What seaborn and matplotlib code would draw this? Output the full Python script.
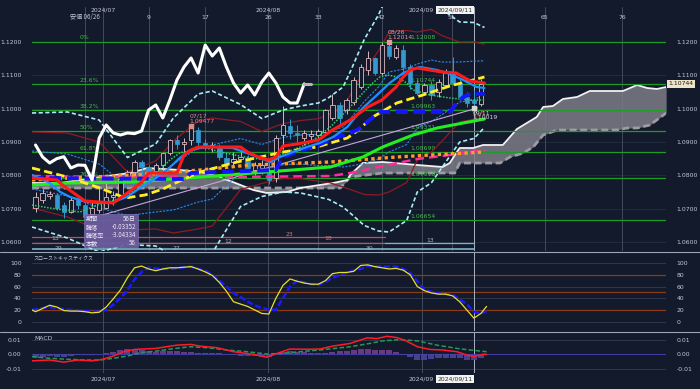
import numpy as np
import matplotlib
matplotlib.use("Agg")
import matplotlib.pyplot as plt
import matplotlib.transforms as mtrans
from matplotlib.patches import Rectangle
from matplotlib.lines import Line2D
import seaborn as sns

# ---------------- data ----------------
bar_idx = list(range(-7, 57))
open_ = [1.0702,1.0726,1.0738,1.0741,1.0711,1.0690,1.0726,
         1.0711,1.0683,1.0696,1.0702,1.0735,1.0742,1.0790,1.0810,1.0840,1.0826,
         1.0813,1.0830,1.0868,1.0907,1.0894,1.0906,1.0936,1.0897,1.0885,1.0882,
         1.0852,1.0840,1.0848,1.0852,1.0816,1.0822,1.0816,1.0792,1.0921,1.0948,
         1.0927,1.0913,1.0917,1.0920,1.0930,1.0972,1.1011,1.0996,1.1020,1.1065,
         1.1116,1.1152,1.1107,1.1188,1.1155,1.1176,1.1125,1.1077,1.1050,1.1071,
         1.1050,1.1071,1.1107,1.1077,1.1035,1.1026,1.1014]
high_ = [1.0750,1.0760,1.0752,1.0748,1.0719,1.0735,1.0738,
         1.0716,1.0719,1.0762,1.0776,1.0752,1.0802,1.0817,1.0847,1.0845,1.0830,
         1.0837,1.0871,1.0910,1.0922,1.0912,1.09477,1.0944,1.0910,1.0900,1.0895,
         1.0868,1.0869,1.0871,1.0860,1.0840,1.0845,1.0845,1.0920,1.1008,1.0970,
         1.0950,1.0935,1.0935,1.0940,1.1000,1.1045,1.1020,1.1032,1.1095,1.1135,
         1.1174,1.1155,1.1201,1.12014,1.1190,1.1190,1.1135,1.1090,1.1078,1.1082,
         1.1090,1.1120,1.1155,1.1088,1.1050,1.1055,1.1090]
low_ = [1.0690,1.0718,1.0730,1.0695,1.0672,1.0686,1.0700,
        1.0666,1.0677,1.0688,1.0700,1.0712,1.0730,1.0785,1.0797,1.0792,1.0800,
        1.0800,1.0810,1.0860,1.0880,1.0870,1.0890,1.0890,1.0875,1.0870,1.0845,
        1.0825,1.0825,1.0845,1.0810,1.0800,1.0805,1.0775,1.0780,1.0880,1.0910,
        1.0900,1.0890,1.0905,1.0910,1.0925,1.0965,1.0955,1.0985,1.1010,1.1060,
        1.1100,1.1100,1.1100,1.1150,1.1150,1.1100,1.1060,1.1040,1.1040,1.1025,
        1.1035,1.1065,1.1070,1.1025,1.1005,1.10019,1.1008]
close_ = [1.0735,1.0747,1.0745,1.0702,1.0690,1.0726,1.0711,
          1.0675,1.0701,1.0717,1.0735,1.0742,1.0790,1.0810,1.0840,1.0826,1.0813,
          1.0830,1.0868,1.0907,1.0894,1.0899,1.0942,1.0900,1.0885,1.0891,1.0855,
          1.0837,1.0850,1.0856,1.0822,1.0831,1.0830,1.0786,1.0912,1.0951,1.0927,
          1.0921,1.0927,1.0925,1.0933,1.0996,1.1011,1.0972,1.1026,1.1086,1.1125,
          1.1152,1.1107,1.1191,1.1158,1.1182,1.1125,1.1077,1.1047,1.1071,1.1041,
          1.1080,1.1107,1.1077,1.1035,1.1017,1.1017,1.10744]

tenkan_x = [-7.5,-4,-3,-1,0,4,5,7,8,9,13,14,15,16,22,23,24.5,26,27,28,30,33,35,37.5,40,42,44,45,46,47,50.5,52.5,53.5,54.5,56.5]
tenkan_y = [1.0792,1.0786,1.0768,1.0738,1.0723,1.0717,1.0732,1.0762,1.0780,1.0807,1.0807,1.0861,1.0876,1.0885,1.0885,
            1.0870,1.0855,1.0846,1.0855,1.0888,1.0894,1.0906,1.0936,1.0966,1.1005,1.1026,1.1065,1.1095,1.1116,1.1122,
            1.1110,1.1107,1.1095,1.1083,1.1077]
kijun_x = [-7.5,14,15,27,28,30,33,35,38.5,40.8,41.7,51.6,52.6,53.5,54.5,56.5]
kijun_y = [1.0792,1.0789,1.0807,1.0816,1.0855,1.0870,1.0891,1.0909,1.0936,1.0975,1.0990,1.0990,1.1017,1.1035,1.1044,1.1044]
ema_x = [-7.5,-5,-3.5,-2.1,0.3,2.1,4,5.9,7.8,9.6,11.6,13.4,14.9,16.3,18.1,20.9,22.9,24.8,26.2,27.6,29.4,31.4,33.2,35.1,37.1,
         39.3,41.3,43.1,45,46.4,47.4,49.8,51.6,53.5,55.4,56.5]
ema_y = [1.0801,1.0777,1.0750,1.0735,1.0720,1.0717,1.0720,1.0735,1.0762,1.0786,1.0816,1.0852,1.0876,1.0882,1.0885,
         1.0882,1.0867,1.0852,1.0840,1.0855,1.0870,1.0885,1.0897,1.0915,1.0945,1.1002,1.1041,1.1077,1.1107,1.1119,
         1.1125,1.1116,1.1104,1.1086,1.1065,1.1062]
ma10_x = [-7.5,-5,-0.7,1.7,4.2,6.4,7.8,9.9,12,13.4,16.7,19.1,22.6,25.7,27.6,29.4,31.8,34.7,37.5,39.3,40.7,41.7,42.7,43.6,44.6,
          45.5,46.4,48.8,51.6,54.5,56.6]
ma10_y = [1.0711,1.0702,1.0690,1.0711,1.0726,1.0747,1.0765,1.0801,1.0846,1.0867,1.0885,1.0870,1.0855,1.0846,1.0861,
          1.0876,1.0897,1.0945,1.1005,1.1047,1.1077,1.1095,1.1101,1.1098,1.1089,1.1077,1.1056,1.1041,1.1032,1.1026,1.1026]
yellow_x = [-7.5,-2.5,2.1,5.7,8.5,11,13.4,16.3,20.9,24.8,28,32.8,37.1,38.5,40.7,44.1,47.8,51.6,56.5]
yellow_y = [1.0822,1.0795,1.0762,1.0732,1.0741,1.0759,1.0783,1.0810,1.0837,1.0855,1.0870,1.0885,1.0912,1.0933,1.0975,
            1.1017,1.1041,1.1068,1.1095]
green_x = [-7.5,-2.5,6.8,16.3,25.7,34.7,39.3,42.1,46.4,49.8,53.5,56.5]
green_y = [1.0771,1.0777,1.0780,1.0795,1.0810,1.0825,1.0855,1.0885,1.0921,1.0942,1.0957,1.0969]
orange_x = [-7.5,6.8,16.3,23.3,34.7,44.1,48.8,56.5]
orange_y = [1.0786,1.0801,1.0816,1.0831,1.0840,1.0855,1.0861,1.0870]
magenta_x = [-7.5,6.8,20.9,34.7,37.5,42.1,47,51.6,56.5]
magenta_y = [1.0798,1.0795,1.0795,1.0798,1.0807,1.0828,1.0849,1.0861,1.0876]
trend_x = [0, 55.5]
trend_y = [1.0666, 1.1002]

bb_x = [-7.5,-2.5,2,6,10,12.5,16,18,22,25,28,30.5,33,34.5,36.5,37.5,39.5,41.5,43,45.5,47,49,50.5,53,55,56.5]
bb_mid = [1.0816,1.0801,1.0768,1.0723,1.0741,1.0765,1.0801,1.0810,1.08595,1.08535,1.0873,1.08775,1.0876,1.08805,1.0885,
          1.08985,1.09285,1.0957,1.0990,1.10065,1.1038,1.10538,1.10608,1.1080,1.10845,1.10935]
bb_sd = [0.0057,0.0063,0.0066,0.00435,0.0051,0.0069,0.0081,0.0081,0.0051,0.0039,0.0041,0.00435,0.0047,0.0051,0.0060,
         0.00705,0.0093,0.0108,0.0120,0.0114,0.0096,0.0092,0.0079,0.0060,0.0058,0.0050]

spanA_x = [-7.5,-3.5,2.1,6.4,8.8,13.4,16.3,18.1,20.9,23.8,25.7,28.6,30.4,33.2,35.1,37.1,37.5,39.3,42.1,47,50.6,51.6,52.6,53,
           54.9,56.3,59.1,61.1,63.9,64.8,66.2,67.6,69.6,71.4,76.1,78.1,79.5,80.9,82.2]
spanA_y = [1.0777,1.0777,1.0795,1.0807,1.0822,1.0816,1.0810,1.0801,1.0780,1.0756,1.0747,1.0750,1.0762,1.0771,1.0777,
           1.0786,1.0801,1.0837,1.0840,1.0831,1.0825,1.0837,1.0870,1.0882,1.0882,1.0891,1.0891,1.0939,1.0975,1.1005,
           1.1008,1.1029,1.1035,1.1053,1.1053,1.1071,1.1062,1.1059,1.1065]
spanB_x = [-7.5,36.1,37.5,42.1,52.3,53,58.7,60.1,62,63.4,64.8,66.8,75.2,76.7,78.1,79.9,82.2]
spanB_y = [1.0762,1.0762,1.0795,1.0807,1.0807,1.0837,1.0837,1.0855,1.0867,1.0885,1.0921,1.0936,1.0936,1.0942,1.0942,
           1.0951,1.0987]
chikou_shift = 25

fib_levels = [1.12008, 1.10744, 1.09963, 1.09331, 1.08699, 1.07918, 1.06654]
fib_names = ["0%", "23.6%", "38.2%", "50%", "61.8%", "76.4%", "100%"]
fib_texts = ["1.12008", "1.10744", "1.09963", "1.09331", "1.08699", "1.07918", "1.06654"]

cycle_levels = [1.0615, 1.0597, 1.0578]
cycle_labels = [("13", -4.2, 1.0612), ("29", -3.8, 1.0582), ("27", 13, 1.0582), ("12", 20.2, 1.0602),
                ("23", 28.9, 1.0624), ("18", 34.4, 1.0609), ("30", 40.3, 1.0582), ("13", 48.8, 1.0603)]

stoch_k_x = [-7.5,-7,-5,-4,-3,-2,-1] + list(range(0, 57)) + [56.8]
stoch_k_y = [20,17,28,25,19,18,18,
             17,15,16,25,39,54,75,92,95,90, 87,90,92,92,93,94,90,85,79,67,
             52,34,30,26,20,14,13,40,62,73, 69,66,64,64,70,82,84,84,86,96,
             97,94,92,90,91,88,80,60,53,49, 47,47,44,34,20,6,14, 26]
stoch_d_x = [-7.5,-5,-3,-2,0,2,3,4,5,6,7,8,9,11,12,14,15,16,17,18,19,20,21,22,23,24,25,26,27,28,29,30,32,33,34,35,37,38,
             39,40,42,44,45,46,47,48,49,50,51,52,53,54,55,56,56.8]
stoch_d_y = [20,25,21,20,18,17,20,29,40,54,72,85,92,90,90,93,94,90,87,80,70,60,49,42,34,28,23,21,20,40,60,70,64,63,68,75,
             84,87,90,95,94,94,90,83,69,55,51,48,47,46,38,30,17,14,18]

macd_x = [-7.5,-5,-3,-1,1,2.5,4,5.5,7,8.2,10,11.5,13,15,16.3,18.7,21,23.8,25.7,27.2,29,31.4,33.2,35,37.5,39.9,41.3,42.7,
          44.1,45.5,47,48.8,50.6,52.6,54,55,56.3,56.8]
macd_y = [-0.0046,-0.0040,-0.0055,-0.0040,-0.0046,-0.0035,-0.0012,0.0018,0.0034,0.0037,0.0041,0.0053,0.0064,0.0069,
          0.0057,0.0046,0.0018,0.0000,-0.0021,0.0007,0.0037,0.0035,0.0037,0.0057,0.0076,0.0115,0.0110,0.0126,0.0117,
          0.0092,0.0053,0.0034,0.0030,0.0018,-0.0005,-0.0016,0.0000,0.0000]
signal_x = [-7.5,-5,-2.5,0.3,2.1,4,6,7.8,10.2,12.4,14.9,17.3,20.1,22.9,25.7,28,30.4,33.2,37.5,40.3,42.1,44.6,47,49.8,
            52.6,54.5,56.8]
signal_y = [-0.0016,-0.0028,-0.0035,-0.0040,-0.0040,-0.0028,-0.0012,0.0011,0.0023,0.0039,0.0053,0.0046,0.0030,0.0018,
            0.0002,0.0007,0.0018,0.0030,0.0053,0.0076,0.0094,0.0103,0.0094,0.0064,0.0041,0.0030,0.0018]
hist_y = [-0.0027,-0.0020,-0.0012,-0.0017,-0.0022,-0.0012,-0.0002,
          -0.0003,-0.0006,0.0002,0.0009,0.0016,0.0028,0.0035,0.0032,0.0027,0.0023,
          0.0019,0.0020,0.0021,0.0022,0.0018,0.0016,0.0009,0.0009,0.0008,0.0006,
          -0.0001,-0.0008,-0.0009,-0.0012,-0.0014,-0.0020,-0.0021,0.0001,0.0013,0.0025,
          0.0019,0.0014,0.0011,0.0008,0.0012,0.0017,0.0020,0.0023,0.0028,0.0036,
          0.0040,0.0028,0.0028,0.0029,0.0016,-0.0002,-0.0021,-0.0041,-0.0041,-0.0036,
          -0.0029,-0.0023,-0.0024,-0.0028,-0.0037,-0.0043,-0.0024]

month_bars = [2.5, 25.9, 47.6]
month_labels = ["2024/07", "2024/08", "2024/09"]
count_bars = [9, 17, 26, 33, 42, 51.9, 65, 76]
count_labels = ["9", "17", "26", "33", "42", "51", "65", "76"]
cursor_bar = 55
cursor_label = "2024/09/11"

# ---------------- style ----------------
BG = "#131a2b"
TXT = "#c3c8d2"
CJK = ['Noto Sans CJK JP', 'DejaVu Sans']
sns.set_theme(style="dark", rc={"axes.facecolor": BG, "figure.facecolor": BG})
plt.rcParams['font.family'] = ['DejaVu Sans', 'Noto Sans CJK JP']
FS = 4.4

fig = plt.figure(figsize=(7.0, 3.89), dpi=100)
L, W = 32/700, 634/700
ax = fig.add_axes([L, 1-251/389, W, 244/389])
ax2 = fig.add_axes([L, 1-331/389, W, 79/389])
ax3 = fig.add_axes([L, 1-373/389, W, 41/389])
XL = (-7.5, 82.18)
for a in (ax, ax2, ax3):
    a.set_facecolor(BG)
    for s in a.spines.values():
        s.set_visible(False)
    a.grid(False)
    a.set_xlim(*XL)
    a.tick_params(axis='x', bottom=False, labelbottom=False)
    a.tick_params(axis='y', left=False, right=False, labelleft=True, labelright=True,
                  labelsize=FS, labelcolor=TXT, pad=1.5)

# ---------- main panel ----------
ax.set_ylim(1.0573, 1.1305)
pticks = [1.06, 1.07, 1.08, 1.09, 1.10, 1.11, 1.12]
ax.set_yticks(pticks)
ax.set_yticklabels([f"{v:.4f}" for v in pticks])
for v in pticks:
    ax.axhline(v, color="#262e42", lw=0.6, zorder=0.5)

for b in [0, 2.5, 9, 17, 25.9, 33, 42, 47.6, 51.9, 65, 76]:
    ax.axvline(b, color="#4a5163", lw=0.6, zorder=0.6)
for a in (ax2, ax3):
    for b in [2.5, 25.9, 47.6]:
        a.axvline(b, color="#4a5163", lw=0.6, zorder=0.6)
for a in (ax, ax2, ax3):
    a.axvline(cursor_bar, color="#a9b1c2", lw=0.7, zorder=0.7)

# ichimoku cloud
grid = np.linspace(-7.5, 82.2, 900)
sa = np.interp(grid, spanA_x, spanA_y)
sb = np.interp(grid, spanB_x, spanB_y)
ax.fill_between(grid, sa, sb, color="#7c7d88", alpha=0.85, lw=0, zorder=1)
ax.plot(spanB_x, spanB_y, color="#9c9ca2", lw=2.0, dashes=(2.5, 1.3), zorder=1.2)
ax.plot(spanA_x, spanA_y, color="#f2f2f2", lw=1.3, zorder=1.3)

# fib lines
for lev in fib_levels:
    ax.axhline(lev, color="#1f9c28", lw=0.9, zorder=1.5)
for lev, nm, tx in zip(fib_levels[:-1], fib_names[:-1], fib_texts[:-1]):
    ax.text(-0.8, lev + 0.0004, nm, color="#45b84a", fontsize=FS, ha='left', va='bottom', zorder=1.6)
for lev, tx in zip(fib_levels, fib_texts):
    ax.text(46.0, lev + 0.0004, tx, color="#45b84a", fontsize=FS, ha='left', va='bottom', zorder=1.6)

# cycle lines at bottom
ax.plot([-7.5, 42.5], [cycle_levels[0]] * 2, color="#c0505a", lw=0.9, zorder=1.5)
ax.plot([-7.5, 42.5], [cycle_levels[1]] * 2, color="#c0505a", lw=0.9, zorder=1.5)
ax.plot([42.5, 55], [cycle_levels[1]] * 2, color="#7fb3cc", lw=0.9, zorder=1.5)
ax.plot([-7.5, 55], [cycle_levels[2]] * 2, color="#7fb3cc", lw=1.2, zorder=1.5)
for t, bx, by in cycle_labels:
    col = "#d07a7a" if t in ("23", "18") else "#9fb6c6"
    ax.text(bx, by, t, color=col, fontsize=FS, ha='center', va='center', zorder=1.7)

# bollinger bands
bm = np.array(bb_mid); bs = np.array(bb_sd)
for k in (1, -1):
    ax.plot(bb_x, bm + k * bs, color="#2a86e8", lw=0.8, dashes=(2, 1.2), zorder=2)
    ax.plot(bb_x, bm + 2 * k * bs, color="#8e1a24", lw=0.9, zorder=2)
    ax.plot(bb_x, bm + 3 * k * bs, color="#a6eef5", lw=1.2, dashes=(2.5, 1.5), zorder=2.1)

ax.plot(trend_x, trend_y, color="#c6a6dc", lw=0.8, zorder=2.2)

# candles
x = np.array(bar_idx); o = np.array(open_); h = np.array(high_); l = np.array(low_); c = np.array(close_)
up = c >= o
UPC = "#d9b9c0"; DNC = "#3399d0"
ax.vlines(x[up], l[up], h[up], color=UPC, lw=0.7, zorder=3)
ax.vlines(x[~up], l[~up], h[~up], color=DNC, lw=0.7, zorder=3)
ax.bar(x[up], (c - o)[up], bottom=o[up], width=0.62, facecolor=BG, edgecolor=UPC, lw=0.6, zorder=3.1)
ax.bar(x[~up], (c - o)[~up], bottom=o[~up], width=0.62, color=DNC, edgecolor=DNC, lw=0.5, zorder=3.1)

# moving averages / ichimoku lines
ax.plot(ma10_x, ma10_y, color="#38c86a", lw=1.1, dashes=(1, 1), zorder=4)
ax.plot(magenta_x, magenta_y, color="#ff2aa0", lw=1.8, dashes=(3.5, 2), zorder=4.1)
ax.plot(orange_x, orange_y, color="#ff9a2a", lw=2.4, dashes=(1, 1), zorder=4.2)
ax.plot(green_x, green_y, color="#22ee22", lw=2.2, zorder=4.3)
ax.plot(yellow_x, yellow_y, color="#ffee22", lw=2.0, dashes=(3, 1.5), zorder=4.4)
ax.plot(kijun_x, kijun_y, color="#1414ff", lw=2.8, dashes=(3, 1.5), zorder=4.5)
sns.lineplot(x=ema_x, y=ema_y, ax=ax, color="#1e90ff", lw=1.6, sort=False, zorder=4.6)
sns.lineplot(x=tenkan_x, y=tenkan_y, ax=ax, color="#ff1a1a", lw=2.2, sort=False, zorder=4.7)

# chikou span
ch_x = [b - chikou_shift for b in bar_idx if b - chikou_shift >= -7]
ch_y = [cv for b, cv in zip(bar_idx, close_) if b - chikou_shift >= -7]
sns.lineplot(x=ch_x, y=ch_y, ax=ax, color="white", lw=2.2, sort=False, zorder=4.8)
ax.plot([ch_x[-1], ch_x[-1] + 1], [ch_y[-1], ch_y[-1]], color="#b5b5b5", lw=2.2, zorder=4.8)

# high/low markers
marks = [(15, 1.09477, "07/17\n1.09477", "#d98a8a", 'bottom'),
         (43, 1.12014, "08/26\n1.12014", "#e29a9a", 'bottom'),
         (55, 1.10019, "09/11\n1.10019", "#d6d6d6", 'top')]
for bx, by, t, col, va in marks:
    ax.scatter([bx], [by], marker='s', s=5, color=col, zorder=6)
    dy = 0.0006 if va == 'bottom' else -0.0006
    ax.text(bx - 0.2, by + dy, t, color=col, fontsize=FS, ha='left', va=va, linespacing=1.05, zorder=6)

# info box
ax.add_patch(Rectangle((0.082, 0.016), 0.085, 0.136, transform=ax.transAxes,
                       facecolor="#6c5c9e", edgecolor="#8a7cc0", lw=0.4, alpha=0.95, zorder=7))
rows = [("期間", "56日"), ("騰落", "-0.03352"), ("騰落率", "-3.04334"), ("本数", "56")]
for i, (k, v) in enumerate(rows):
    yy = 0.131 - i * 0.0325
    ax.text(0.085, yy, k, transform=ax.transAxes, fontsize=FS, color="#eeeaf6", ha='left', va='center',
            family=CJK, zorder=8)
    ax.text(0.164, yy, v, transform=ax.transAxes, fontsize=FS, color="#eeeaf6", ha='right', va='center',
            family=CJK, zorder=8)

# right price tag
bt = mtrans.blended_transform_factory(ax.transAxes, ax.transData)
ax.text(1.004, fib_levels[1], fib_texts[1], transform=bt, fontsize=FS, color="#1a1a1a", ha='left', va='center',
        bbox=dict(boxstyle="square,pad=0.25", facecolor="#efe4c8", edgecolor="none"), zorder=9, clip_on=False)

# top labels
xt = ax.get_xaxis_transform()
for b, t in zip(month_bars, month_labels):
    ax.text(b, 0.988, t, transform=xt, fontsize=FS, color=TXT, ha='center', va='center', zorder=9)
for b, t in zip(count_bars, count_labels):
    ax.text(b, 0.959, t, transform=xt, fontsize=FS, color=TXT, ha='center', va='center', zorder=9)
ax.text(0, 0.959, "安値 06/26", transform=xt, fontsize=FS, color=TXT, ha='center', va='center',
        family=CJK, zorder=9)
ax.text(52.35, 0.988, cursor_label, transform=xt, fontsize=FS, color="#333333", ha='center', va='center',
        bbox=dict(boxstyle="square,pad=0.25", facecolor="#f2f2f2", edgecolor="none"), zorder=10)

# ---------- stochastics ----------
ax2.set_ylim(-16, 119)
sticks = [0, 20, 40, 60, 80, 100]
ax2.set_yticks(sticks)
ax2.set_yticklabels([str(v) for v in sticks])
for v in [0, 40, 60, 100]:
    ax2.axhline(v, color="#343c52", lw=0.6, zorder=0.5)
for v in [20, 50, 80]:
    ax2.axhline(v, color="#8a3a14", lw=0.9, zorder=0.5)
ax2.plot(stoch_d_x, stoch_d_y, color="#1a1aff", lw=1.8, dashes=(2.5, 1), zorder=3)
sns.lineplot(x=stoch_k_x, y=stoch_k_y, ax=ax2, color="#e6e02a", lw=0.9, sort=False, zorder=4)
ax2.text(0.002, 0.925, "スローストキャスティクス", transform=ax2.transAxes, fontsize=3.6, color=TXT,
         ha='left', va='center', family=CJK)

# ---------- MACD ----------
ax3.set_ylim(-0.0131, 0.0156)
mticks = [-0.01, 0.0, 0.01]
ax3.set_yticks(mticks)
ax3.set_yticklabels(["-0.01", "0.00", "0.01"])
for v in [-0.01, 0.01]:
    ax3.axhline(v, color="#343c52", lw=0.6, zorder=0.5)
ax3.axhline(0, color="#3c3ca0", lw=0.8, zorder=0.6)
hy = np.array(hist_y)
ax3.bar(x, hy, width=0.85, color=np.where(hy >= 0, "#6e3a86", "#47449c"), edgecolor="none", lw=0,
        alpha=0.95, zorder=1)
ax3.plot(signal_x, signal_y, color="#1f9a55", lw=1.1, dashes=(3, 1.5), zorder=2)
sns.lineplot(x=macd_x, y=macd_y, ax=ax3, color="#ff1a2a", lw=1.1, sort=False, zorder=3)
ax3.text(0.004, 0.85, "MACD", transform=ax3.transAxes, fontsize=FS, color=TXT, ha='left', va='center')

for a in (ax, ax2, ax3):
    a.set_xlim(*XL)
    a.set_xlabel("")
    a.set_ylabel("")
ax.set_ylim(1.0573, 1.1305)

# bottom labels
bt2 = mtrans.blended_transform_factory(ax3.transData, fig.transFigure)
for b, t in zip(month_bars, month_labels):
    fig.text(b, 1 - 379/389, t, transform=bt2, fontsize=FS, color=TXT, ha='center', va='center')
fig.text(52.35, 1 - 379/389, cursor_label, transform=bt2, fontsize=FS, color="#333333", ha='center', va='center',
         bbox=dict(boxstyle="square,pad=0.25", facecolor="#f2f2f2", edgecolor="none"))

# panel separators
for yy in (1 - 251.5/389, 1 - 331.5/389):
    fig.add_artist(Line2D([0, 1], [yy, yy], transform=fig.transFigure, color="#9aa5b6", lw=0.8))

fig.savefig("out.png", dpi=100, facecolor=BG)
